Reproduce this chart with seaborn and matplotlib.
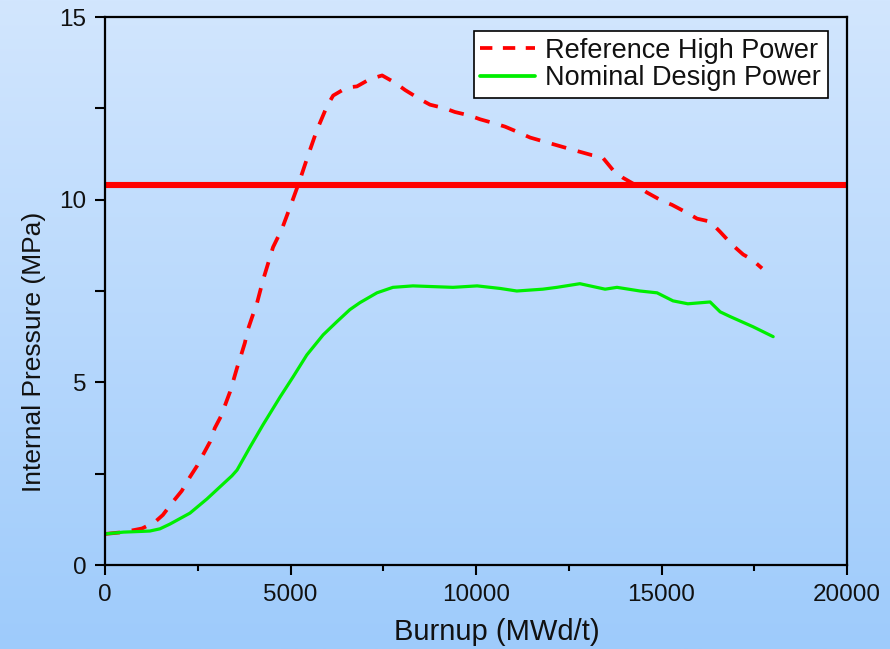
import numpy as np
import pandas as pd
import matplotlib
matplotlib.use("Agg")
import matplotlib.pyplot as plt
from matplotlib import font_manager
from matplotlib.ticker import MultipleLocator
from matplotlib.lines import Line2D
import seaborn as sns

# ---------------- data ----------------
high_x = [0, 500, 1000, 1350, 1560, 1830, 2070, 2290, 2480, 2670, 2830, 2960, 3130,
          3260, 3370, 3480, 3560, 3670, 3770, 3850, 3960, 4100, 4260, 4530, 4770,
          4990, 5230, 5470, 5710, 5980, 6150, 6520, 6790, 7140, 7470, 7820, 8090,
          8490, 8760, 9160, 9430, 9840, 10110, 10460, 10780, 11130, 11460, 11800,
          12590, 13120, 13400, 13700, 13960, 14370, 14600, 15010, 15280, 15690,
          15960, 16310, 16580, 16900, 17200, 17440, 17710]
high_y = [0.85, 0.9, 1.0, 1.18, 1.37, 1.73, 2.03, 2.41, 2.71, 3.07, 3.37, 3.75, 4.08,
          4.44, 4.74, 5.12, 5.4, 5.75, 6.08, 6.44, 6.77, 7.18, 7.8, 8.7, 9.2,
          9.8, 10.47, 11.2, 11.9, 12.55, 12.85, 13.07, 13.1, 13.3, 13.4, 13.2, 13.0,
          12.75, 12.6, 12.5, 12.4, 12.3, 12.2, 12.1, 12.0, 11.85, 11.7, 11.6,
          11.37, 11.22, 11.17, 10.8, 10.6, 10.36, 10.2, 9.97, 9.86, 9.64,
          9.48, 9.4, 9.12, 8.77, 8.5, 8.36, 8.12]

nom_x = [0, 500, 1000, 1210, 1480, 1750, 2290, 2750, 3100, 3420, 3560, 3910, 4260,
         4720, 5070, 5440, 5880, 6250, 6600, 6870, 7330, 7760, 8300, 8840, 9380,
         10030, 10650, 11100, 11800, 12180, 12800, 13480, 13800, 14420, 14880,
         15310, 15710, 16310, 16580, 16850, 17470, 18010]
nom_y = [0.85, 0.9, 0.92, 0.93, 0.99, 1.12, 1.42, 1.81, 2.14, 2.44, 2.6, 3.23, 3.84,
         4.6, 5.15, 5.75, 6.3, 6.66, 6.99, 7.18, 7.45, 7.6, 7.64, 7.62, 7.6,
         7.64, 7.57, 7.5, 7.55, 7.6, 7.7, 7.55, 7.6, 7.5, 7.45,
         7.23, 7.15, 7.2, 6.93, 6.8, 6.52, 6.25]

limit_value = 10.4
series_names = ["Reference High Power", "Nominal Design Power"]
x_label = "Burnup (MWd/t)"
y_label = "Internal Pressure (MPa)"

df = pd.concat([
    pd.DataFrame({"Burnup": high_x, "Pressure": high_y, "Case": series_names[0]}),
    pd.DataFrame({"Burnup": nom_x, "Pressure": nom_y, "Case": series_names[1]}),
], ignore_index=True)

# ---------------- style ----------------
sns.set_style("ticks")
installed = {f.name for f in font_manager.fontManager.ttflist}
narrow = "Liberation Sans Narrow" if "Liberation Sans Narrow" in installed else "Liberation Sans"
plt.rcParams["font.family"] = ["Liberation Sans", "DejaVu Sans"]

W, H = 890, 649
fig = plt.figure(figsize=(W / 100, H / 100), dpi=100)

# gradient background
bg = fig.add_axes([0, 0, 1, 1], zorder=-10)
top = np.array([210, 230, 254]) / 255.0
bot = np.array([158, 203, 251]) / 255.0
t = np.linspace(0, 1, 256)[:, None]
grad = top[None, :] * (1 - t) + bot[None, :] * t
bg.imshow(grad[:, None, :], aspect="auto", extent=[0, 1, 0, 1], interpolation="bilinear")
bg.axis("off")

ax = fig.add_axes([105 / W, (H - 565) / H, 742 / W, 548 / H])
ax.patch.set_alpha(0)

red_dash = (4.0, 3.2)
palette = {series_names[0]: "#ff0000", series_names[1]: "#00ee00"}
sns.lineplot(data=df, x="Burnup", y="Pressure", hue="Case", style="Case",
             palette=palette, dashes={series_names[0]: red_dash, series_names[1]: ""},
             sort=False, estimator=None, ax=ax, legend=False)
lines = ax.get_lines()
lines[0].set_linewidth(2.7)
lines[1].set_linewidth(2.3)
for ln in lines:
    ln.set_solid_capstyle("round")
    ln.set_solid_joinstyle("round")
    ln.set_dash_capstyle("butt")

ax.axhline(limit_value, color="#ff0000", lw=4.4, zorder=1, solid_capstyle="butt")

ax.set_xlim(0, 20000)
ax.set_ylim(0, 15)
ax.xaxis.set_major_locator(MultipleLocator(5000))
ax.xaxis.set_minor_locator(MultipleLocator(2500))
ax.yaxis.set_major_locator(MultipleLocator(5))
ax.yaxis.set_minor_locator(MultipleLocator(2.5))

for s in ax.spines.values():
    s.set_visible(True)
    s.set_linewidth(1.6)
    s.set_color("black")

ax.tick_params(which="major", direction="out", length=7.5, width=1.5, color="black",
               labelsize=17.5, labelcolor="#111111", pad=6)
ax.tick_params(axis="y", which="minor", direction="out", length=7.5, width=1.5, color="black")
ax.tick_params(axis="x", which="minor", direction="out", length=4, width=1.5, color="black")
ax.tick_params(top=False, right=False, which="both")

ax.set_xlabel(x_label, fontsize=21, family=[narrow, "DejaVu Sans"], color="#111111")
ax.set_ylabel(y_label, fontsize=19, family=[narrow, "DejaVu Sans"], color="#111111")
ax.xaxis.set_label_coords((497 - 105) / 742, (565 - 618) / 548)
ax.yaxis.set_label_coords((46 - 105) / 742, (565 - 352) / 548)

# legend
handles = [Line2D([], [], color="#ff0000", lw=2.7, dashes=(3.3, 2.8)),
           Line2D([], [], color="#00ee00", lw=2.7)]
leg = ax.legend(handles, series_names, loc="upper right",
                bbox_to_anchor=((828 - 105) / 742, (565 - 31) / 548),
                borderaxespad=0, frameon=True, fancybox=False, framealpha=1,
                facecolor="white", edgecolor="black", handlelength=2.0,
                handletextpad=0.4, labelspacing=0.05, borderpad=0.25,
                prop={"family": [narrow, "DejaVu Sans"], "size": 19.5})
leg.get_frame().set_linewidth(1.2)
for txt in leg.get_texts():
    txt.set_color("#111111")

fig.savefig("out.png", dpi=100)
